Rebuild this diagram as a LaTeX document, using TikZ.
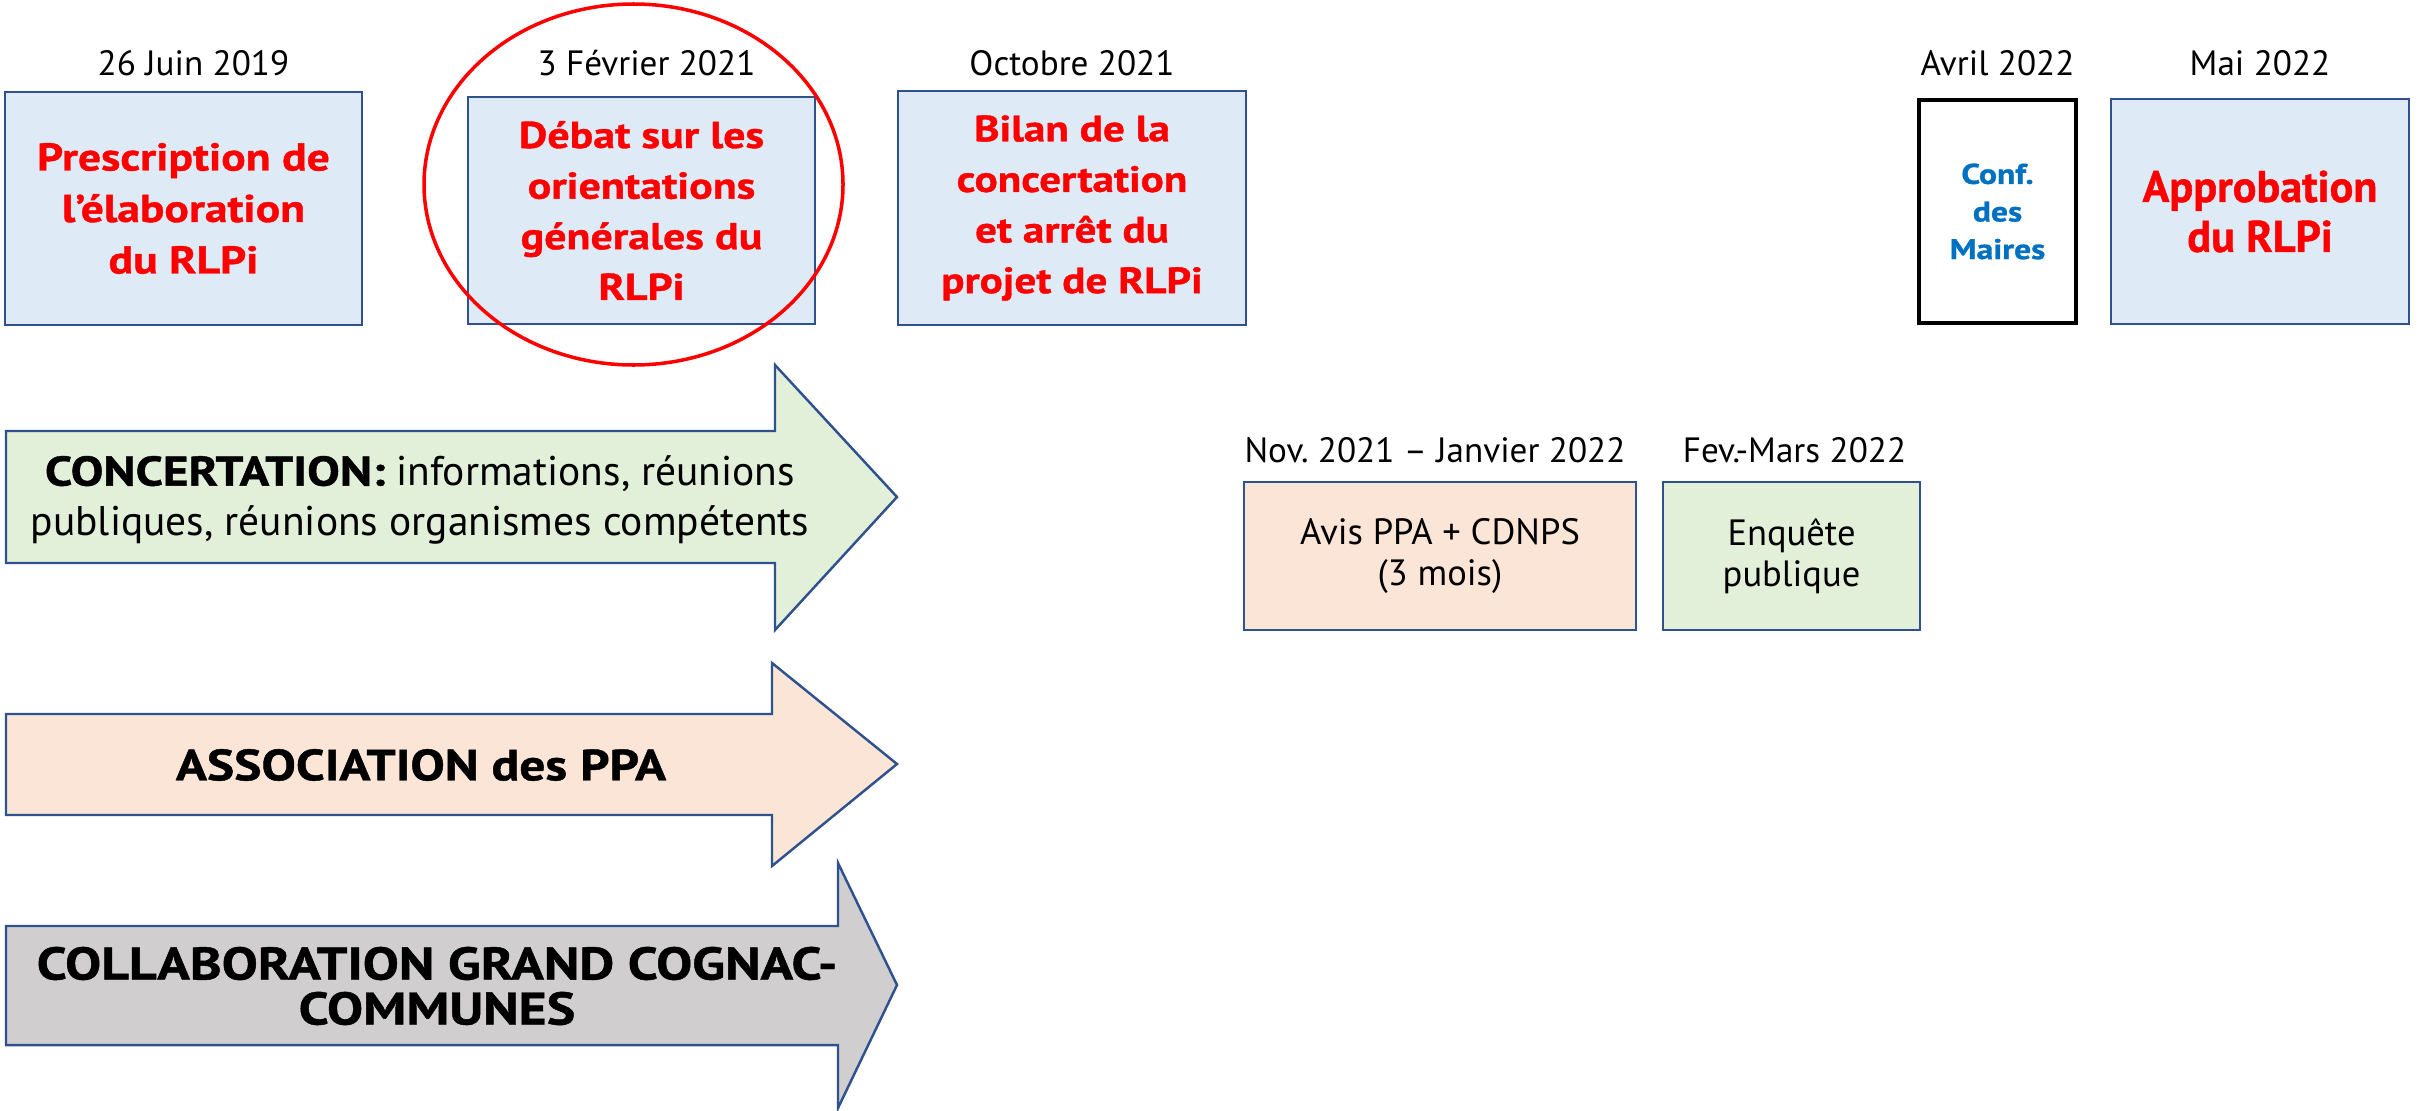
\documentclass[tikz,border=0pt]{standalone}
\usepackage{fontspec}
\setmainfont{PT Sans}[BoldFeatures={FakeStretch=1.18,FakeBold=1}]
\newfontfamily\grasnormal{PT Sans}[BoldFeatures={FakeBold=1}]
\usepackage{tikz}
\usetikzlibrary{positioning}
\frenchspacing
\definecolor{cadre}{RGB}{47,82,143}
\definecolor{bleuclair}{RGB}{222,235,247}
\definecolor{vertclair}{RGB}{226,240,217}
\definecolor{orangeclair}{RGB}{251,229,214}
\definecolor{grisclair}{RGB}{208,206,206}
\definecolor{rouge}{RGB}{255,0,0}
\definecolor{bleutexte}{RGB}{0,112,192}
\tikzstyle{etape}=[draw=cadre, fill=bleuclair, line width=0.7pt, text=rouge, align=center, inner sep=0pt]
\tikzstyle{periode}=[draw=cadre, line width=0.7pt, align=center, inner sep=0pt, font=\fontsize{10.4}{11.7}\selectfont]
\tikzstyle{date}=[anchor=base, inner sep=0pt, font=\fontsize{10}{12}\selectfont]
\tikzstyle{fleche}=[draw=cadre, line width=0.7pt]
\tikzstyle{txtfleche}=[align=center, inner sep=0pt]

\begin{document}
\begin{tikzpicture}
\useasboundingbox (0,0) rectangle (24.2,11.1);

% etapes du haut
\node[etape, minimum width=3.57cm, minimum height=2.33cm, font=\bfseries\fontsize{11}{14.65}\selectfont] at (1.835,9.015) (presc) {Prescription de\\l’élaboration\\du RLPi};
\node[above of = presc, node distance = 1.335cm, xshift=1mm, date] (dpresc) {26 Juin 2019};

\node[etape, minimum width=3.47cm, minimum height=2.27cm, font=\bfseries\fontsize{10.6}{14.4}\selectfont] at (6.415,8.995) (debat) {Débat sur les\\orientations\\générales du\\RLPi};
\node[above of = debat, node distance = 1.355cm, xshift=0.5mm, date] (ddebat) {3 Février 2021};
\draw[rouge, line width=1pt] (6.335,9.255) ellipse [x radius=2.095cm, y radius=1.805cm];

\node[etape, minimum width=3.48cm, minimum height=2.34cm, font=\bfseries\fontsize{10.4}{14.4}\selectfont] at (10.72,9.02) (bilan) {Bilan de la\\concertation\\et arrêt du\\projet de RLPi};
\node[above of = bilan, node distance = 1.33cm, date] (dbilan) {Octobre 2021};

\node[draw, line width=1pt, fill=white, minimum width=1.57cm, minimum height=2.23cm, align=center, inner sep=0pt, text=bleutexte, font=\bfseries\fontsize{8.1}{10.7}\selectfont] at (19.975,8.985) (conf) {Conf.\\des\\Maires};
\node[above of = conf, node distance = 1.365cm, date] (dconf) {Avril 2022};

\node[etape, minimum width=2.98cm, minimum height=2.25cm, font=\grasnormal\bfseries\fontsize{12.6}{14.2}\selectfont] at (22.6,8.985) (approb) {Approbation\\du RLPi};
\node[above of = approb, node distance = 1.365cm, date] (dapprob) {Mai 2022};

% avis et enquete
\node[periode, fill=orangeclair, minimum width=3.92cm, minimum height=1.48cm] at (14.40,5.54) (avis) {Avis PPA + CDNPS\\(3 mois)};
\node[above of = avis, node distance = 0.94cm, xshift=-0.5mm, date] (davis) {Nov. 2021 – Janvier 2022};

\node[periode, fill=vertclair, minimum width=2.57cm, minimum height=1.48cm] at (17.915,5.54) (enquete) {Enquête\\publique};
\node[above of = enquete, node distance = 0.94cm, xshift=0.3mm, date] (denquete) {Fev.-Mars 2022};

% les trois fleches
\draw[fleche, fill=vertclair] (0.06,6.79) -- (7.75,6.79) -- (7.75,7.45) -- (8.97,6.13) -- (7.75,4.80) -- (7.75,5.47) -- (0.06,5.47) -- cycle;
\node[txtfleche, font=\fontsize{11.8}{14.2}\selectfont] at (4.2,6.10) (concert) {\textbf{CONCERTATION:} informations, réunions\\publiques, réunions organismes compétents};

\draw[fleche, fill=orangeclair] (0.06,3.96) -- (7.72,3.96) -- (7.72,4.47) -- (8.97,3.46) -- (7.72,2.44) -- (7.72,2.95) -- (0.06,2.95) -- cycle;
\node[txtfleche, font=\bfseries\fontsize{12.4}{14.2}\selectfont] at (4.21,3.45) (assoc) {ASSOCIATION des PPA};

\draw[fleche, fill=grisclair] (0.06,1.84) -- (8.38,1.84) -- (8.38,2.47) -- (8.97,1.25) -- (8.38,0.02) -- (8.38,0.65) -- (0.06,0.65) -- cycle;
\node[txtfleche, font=\bfseries\fontsize{13}{12.8}\selectfont] at (4.37,1.24) (collab) {COLLABORATION GRAND COGNAC-\\COMMUNES};
\end{tikzpicture}
\end{document}
